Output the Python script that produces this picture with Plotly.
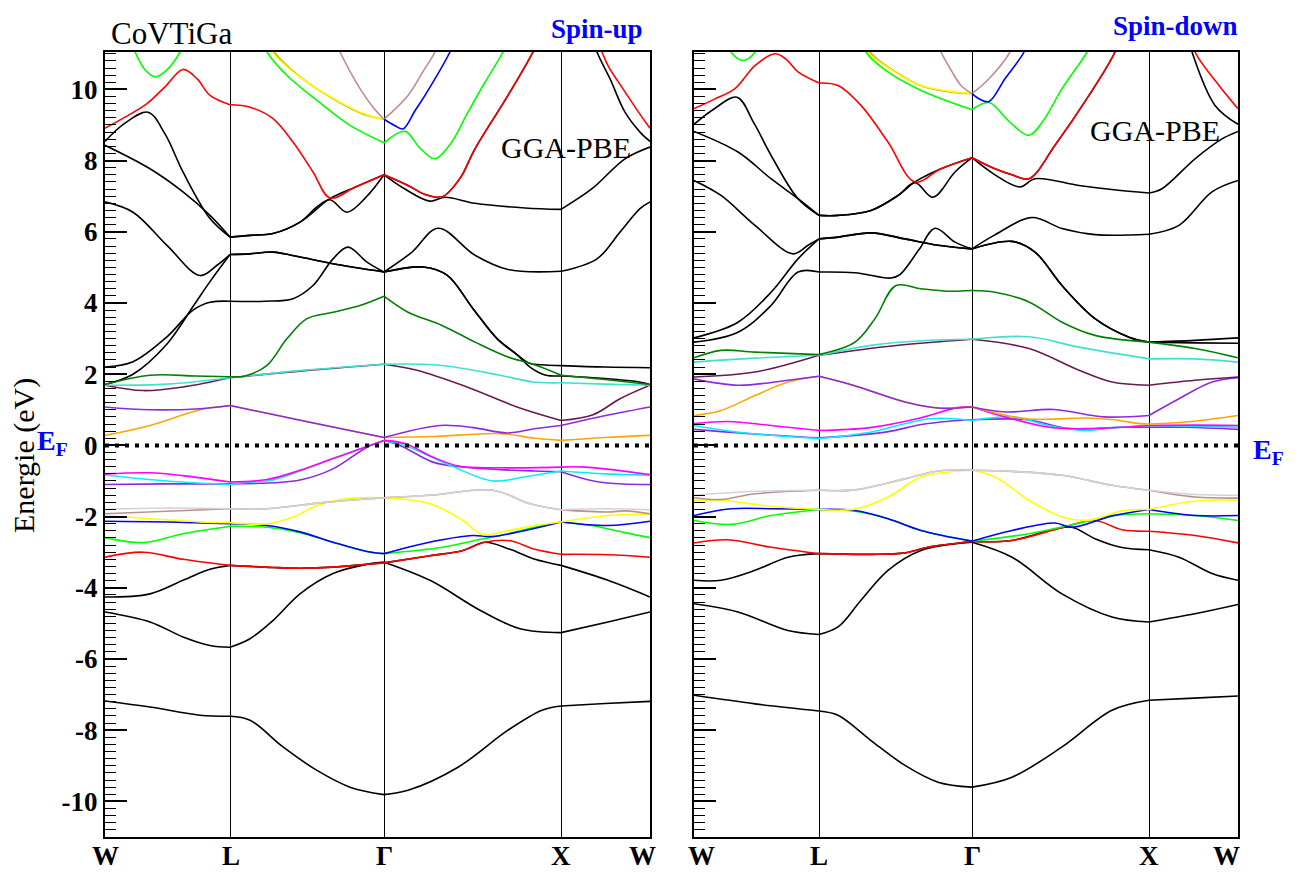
import plotly.graph_objects as go

# ---------------- axes / labels ----------------
K_UP = [0, 125, 279, 456, 545]          # W L G X W  (k-path distance, arb. units)
K_DN = [0, 125, 278, 455, 544]
K_LABELS = ["W", "L", "Γ", "X", "W"]
E_RANGE = [-11.0, 11.05]
E_TICKS = [-10, -8, -6, -4, -2, 0, 2, 4, 6, 8, 10]
E_TICKTEXT = [str(v) for v in E_TICKS]

BLACK = "#000000"; RED = "#FF0000"; LIME = "#00FF00"; BLUE = "#0000FF"
YELLOW = "#FFFF00"; GOLD = "#C8A000"; ROSY = "#BC8F8F"; GRAY = "#D3D3D3"
PURPLE = "#8A2BE2"; CYAN = "#00F0FF"; MAGENTA = "#FF00FF"; ORANGE = "#FFA500"
MAROON = "#6A1B4D"; TURQ = "#40E0D0"; DKGREEN = "#008000"

# ---------------- Spin-up bands (k, E in eV) ----------------
UP_B1 = [(0,-7.18),(45,-7.35),(95,-7.58),(125,-7.61),(145,-7.72),(178,-8.47),(212,-9.13),(245,-9.6),(279,-9.81),(303,-9.69),(353,-9.04),(403,-8.0),(437,-7.44),(456,-7.32),(500,-7.25),(545,-7.19)]
UP_B2 = [(0,-4.68),(45,-4.96),(78,-5.38),(105,-5.62),(125,-5.67),(145,-5.43),(168,-4.92),(195,-4.17),(228,-3.6),(262,-3.34),(279,-3.28),(325,-3.79),(375,-4.63),(415,-5.15),(456,-5.26),(503,-4.96),(545,-4.68)]
UP_B3 = [(0,-4.26),(45,-4.17),(78,-3.79),(105,-3.48),(125,-3.37),(168,-3.43),(195,-3.45),(228,-3.42),(262,-3.34),(279,-3.3),(325,-3.1),(358,-2.95),(380,-2.72),(405,-2.92),(430,-3.2),(456,-3.37),(503,-3.79),(545,-4.26)]
UP_RED_LO = [(0,-3.14),(38,-3.0),(78,-3.2),(125,-3.37),(168,-3.43),(195,-3.45),(228,-3.42),(262,-3.34),(279,-3.3),(325,-3.1),(358,-2.95),(380,-2.72),(405,-2.68),(430,-2.92),(456,-3.06),(503,-3.07),(545,-3.14)]
UP_GREEN_LO = [(0,-2.59),(38,-2.73),(78,-2.48),(125,-2.27),(162,-2.3),(195,-2.45),(228,-2.72),(262,-2.98),(279,-3.04),(337,-2.86),(370,-2.67),(403,-2.48),(430,-2.3),(456,-2.15),(487,-2.25),(520,-2.45),(545,-2.59)]
UP_BLUE_LO = [(0,-2.13),(62,-2.15),(125,-2.2),(162,-2.25),(195,-2.43),(228,-2.72),(262,-2.98),(279,-3.04),(303,-2.86),(337,-2.65),(367,-2.53),(387,-2.56),(420,-2.39),(456,-2.15),(503,-2.25),(545,-2.13)]
UP_YELLOW_LO = [(0,-1.97),(45,-2.06),(95,-2.15),(125,-2.17),(162,-2.2),(188,-2.01),(212,-1.69),(240,-1.5),(279,-1.47),(325,-1.64),(358,-2.11),(377,-2.5),(403,-2.39),(430,-2.25),(456,-2.15),(503,-1.97),(545,-1.93)]
UP_ROSY_LO = [(0,-1.92),(62,-1.85),(125,-1.78),(162,-1.78),(220,-1.6),(279,-1.47),(325,-1.4),(388,-1.26),(425,-1.64),(456,-1.81),(503,-1.87),(520,-1.84),(545,-1.92)]
UP_GRAY = [(0,-1.8),(62,-1.76),(125,-1.78),(162,-1.78),(220,-1.6),(279,-1.47),(325,-1.4),(388,-1.26),(425,-1.64),(456,-1.81),(500,-1.78),(545,-1.81)]
UP_PURPLE_LO = [(0,-1.1),(62,-1.08),(125,-1.08),(195,-0.97),(228,-0.66),(262,-0.05),(279,0.14),(295,0.0),(328,-0.47),(355,-0.6),(395,-0.68),(430,-0.72),(456,-0.74),(494,-1.03),(545,-1.1)]
UP_CYAN = [(0,-0.83),(62,-1.0),(125,-1.1),(145,-1.03),(168,-0.97),(195,-0.72),(228,-0.37),(250,-0.15),(279,0.14),(300,0.0),(345,-0.56),(388,-1.0),(420,-0.88),(456,-0.72),(500,-0.8),(545,-0.84)]
UP_MAGENTA = [(0,-0.8),(45,-0.77),(78,-0.85),(125,-1.03),(162,-0.96),(195,-0.7),(228,-0.37),(250,-0.15),(279,0.14),(300,0.05),(328,-0.33),(355,-0.59),(395,-0.63),(456,-0.61),(480,-0.61),(545,-0.82)]
UP_ORANGE = [(0,0.28),(45,0.56),(95,1.0),(125,1.12),(200,0.68),(279,0.22),(328,0.25),(395,0.33),(430,0.2),(456,0.14),(500,0.22),(545,0.28)]
UP_PURPLE_HI = [(0,1.08),(45,1.0),(95,1.03),(125,1.12),(200,0.68),(279,0.22),(335,0.56),(368,0.5),(402,0.35),(428,0.46),(456,0.56),(494,0.8),(545,1.08)]
UP_MAROON = [(0,1.69),(38,1.54),(80,1.65),(125,1.9),(200,2.1),(279,2.28),(312,2.11),(362,1.64),(412,1.08),(456,0.7),(488,0.86),(515,1.31),(545,1.69)]
UP_TURQ = [(0,1.69),(62,1.72),(125,1.9),(195,2.1),(279,2.28),(335,2.25),(395,1.97),(428,1.78),(456,1.76),(500,1.72),(545,1.69)]
UP_DKGREEN = [(0,1.71),(45,1.97),(90,1.95),(125,1.93),(140,1.95),(162,2.25),(182,3.0),(202,3.56),(228,3.74),(255,3.93),(279,4.19),(303,3.74),(337,3.37),(370,2.9),(403,2.48),(427,2.29),(456,1.97),(500,1.85),(545,1.71)]
UP_BLK_C1 = [(0,1.71),(28,2.0),(62,2.85),(88,3.9),(105,4.6),(125,5.36),(145,5.38),(168,5.43),(195,5.29),(228,5.1),(279,4.87),(318,5.01),(342,4.78),(368,3.84),(392,3.0),(412,2.55),(425,2.2),(440,1.98),(456,1.95),(500,1.88),(530,1.8),(545,1.71)]
UP_BLK_C2 = [(0,2.2),(28,2.35),(62,3.05),(88,3.8),(105,4.02),(125,4.05),(160,4.05),(188,4.12),(208,4.49),(228,5.24),(243,5.57),(262,5.15),(279,4.87),(318,5.01),(342,4.78),(368,3.84),(392,3.0),(412,2.55),(425,2.3),(440,2.26),(456,2.24),(500,2.2),(545,2.18)]
UP_BLK_C3 = [(0,6.84),(28,6.55),(62,5.62),(95,4.77),(112,5.06),(125,5.36),(145,5.38),(168,5.43),(195,5.29),(228,5.1),(279,4.87),(307,5.43),(333,6.1),(370,5.34),(403,4.94),(456,4.89),(492,5.24),(515,5.99),(535,6.65),(545,6.84)]
UP_BLK_A = [(0,8.54),(20,9.05),(43,9.36),(60,8.75),(78,7.68),(105,6.37),(125,5.85),(145,5.9),(168,5.95),(195,6.27),(212,6.7),(225,6.9),(242,6.55),(262,7.0),(279,7.6),(300,7.2),(325,6.86),(340,6.97),(370,6.8),(420,6.67),(456,6.63),(487,7.21),(520,8.05),(545,8.38)]
UP_BLK_B = [(0,8.43),(45,7.77),(78,7.12),(105,6.46),(125,5.85),(145,5.9),(168,5.95),(195,6.27),(225,6.93),(250,7.25),(279,7.6),(303,7.3),(320,7.05),(337,6.98),(355,7.5),(370,8.33),(403,9.83),(428,11.05),(440,11.8),None,(485,11.7),(492,11.05),(505,10.3),(520,9.36),(535,8.8),(545,8.54)]
UP_RED_HI = [(0,8.91),(20,9.22),(42,9.6),(60,10.07),(78,10.56),(92,10.3),(105,9.83),(125,9.57),(145,9.5),(168,9.18),(188,8.52),(208,7.68),(225,6.95),(250,7.25),(279,7.6),(303,7.3),(320,7.05),(337,6.98),(355,7.5),(370,8.33),(403,9.83),(428,11.05),(440,11.8),None,(490,11.6),(497,11.05),(503,10.67),(520,9.93),(537,9.22),(545,8.91)]
UP_LIME_HI1 = [(22,11.6),(30,11.05),(40,10.55),(50,10.35),(62,10.55),(75,11.05),(83,11.6)]
UP_LIME_HI2 = [(150,11.8),(162,11.05),(182,10.39),(212,9.69),(245,8.99),(279,8.5),(300,8.82),(315,8.35),(330,8.05),(345,8.45),(363,9.36),(380,10.2),(398,11.05),(405,11.5)]
UP_YELLOW_HI = [(158,11.5),(167,11.05),(190,10.45),(212,10.02),(255,9.36),(279,9.16)]
UP_GOLD_HI = [(160,11.5),(169,11.05),(192,10.42),(214,9.98),(256,9.33),(279,9.16)]
UP_TAN_HI = [(228,11.5),(235,11.05),(255,10.02),(268,9.5),(279,9.16),(303,9.83),(318,10.5),(330,11.05),(336,11.5)]
UP_BLUE_HI = [(279,9.16),(290,8.98),(298,8.89),(310,9.4),(320,9.83),(345,11.05),(352,11.5)]

# ---------------- Spin-down bands (k, E in eV) ----------------
DN_B1 = [(0,-7.02),(61,-7.26),(125,-7.46),(144,-7.58),(177,-8.29),(211,-8.99),(244,-9.46),(278,-9.6),(318,-9.32),(368,-8.47),(418,-7.44),(455,-7.16),(500,-7.1),(544,-7.04)]
DN_B2 = [(0,-4.45),(44,-4.68),(94,-5.2),(125,-5.31),(144,-5.1),(167,-4.35),(194,-3.51),(227,-2.95),(278,-2.72),(318,-3.14),(368,-4.17),(418,-4.82),(455,-4.96),(501,-4.73),(544,-4.47)]
DN_B3 = [(0,-3.79),(27,-3.79),(61,-3.51),(94,-3.14),(125,-3.04),(177,-3.06),(211,-3.02),(234,-2.86),(278,-2.7),(318,-2.67),(361,-2.35),(378,-2.3),(401,-2.62),(428,-2.87),(455,-2.93),(485,-3.14),(518,-3.6),(544,-3.79)]
DN_RED_LO = [(0,-2.74),(34,-2.65),(77,-2.86),(125,-3.04),(177,-3.06),(211,-3.02),(234,-2.86),(278,-2.7),(318,-2.67),(368,-2.31),(401,-2.11),(428,-2.37),(455,-2.41),(501,-2.53),(544,-2.74)]
DN_GREEN_LO = [(0,-2.11),(37,-2.22),(77,-1.97),(125,-1.8),(161,-1.85),(194,-2.06),(227,-2.39),(278,-2.69),(335,-2.48),(375,-2.25),(418,-1.98),(455,-1.92),(501,-1.97),(544,-2.11)]
DN_BLUE_LO = [(0,-1.97),(37,-1.78),(80,-1.78),(125,-1.8),(161,-1.83),(194,-2.06),(227,-2.39),(278,-2.69),(318,-2.39),(361,-2.18),(378,-2.3),(418,-1.98),(455,-1.8),(501,-1.97),(544,-1.97)]
DN_YELLOW_LO = [(0,-1.54),(27,-1.54),(77,-1.71),(125,-1.8),(161,-1.79),(194,-1.45),(227,-0.89),(278,-0.7),(301,-0.89),(335,-1.54),(368,-2.01),(395,-2.1),(428,-1.84),(455,-1.8),(501,-1.56),(544,-1.54)]
DN_ROSY_LO = [(0,-1.47),(27,-1.52),(61,-1.36),(125,-1.26),(161,-1.25),(211,-0.94),(244,-0.72),(278,-0.7),(318,-0.73),(368,-0.84),(418,-1.12),(455,-1.26),(501,-1.45),(544,-1.48)]
DN_GRAY = [(0,-1.4),(61,-1.29),(125,-1.26),(161,-1.25),(211,-0.94),(244,-0.72),(278,-0.7),(318,-0.73),(368,-0.84),(418,-1.12),(455,-1.26),(501,-1.38),(544,-1.4)]
DN_PURPLE_LO = [(0,0.45),(60,0.32),(125,0.21),(193,0.38),(226,0.58),(255,0.68),(278,0.72),(333,0.72),(376,0.47),(426,0.51),(455,0.51),(493,0.51),(544,0.45)]
DN_CYAN = [(0,0.56),(44,0.37),(125,0.19),(176,0.37),(236,0.75),(278,0.7),(319,0.8),(355,0.55),(389,0.42),(420,0.5),(455,0.56),(500,0.54),(544,0.51)]
DN_MAGENTA = [(0,0.61),(34,0.67),(77,0.56),(125,0.42),(176,0.5),(226,0.77),(263,1.06),(278,1.08),(306,0.84),(355,0.51),(389,0.47),(455,0.56),(500,0.57),(544,0.56)]
DN_ORANGE = [(0,0.84),(27,0.98),(61,1.4),(94,1.78),(125,1.94),(159,1.69),(211,1.22),(244,1.05),(278,1.08),(333,0.75),(393,0.77),(420,0.72),(446,0.61),(455,0.6),(500,0.68),(544,0.84)]
DN_PURPLE_HI = [(0,1.87),(44,1.69),(94,1.83),(125,1.94),(159,1.69),(211,1.22),(244,1.05),(278,1.08),(312,0.94),(360,1.01),(410,0.8),(455,0.84),(485,1.31),(518,1.78),(544,1.9)]
DN_MAROON = [(0,1.92),(61,2.06),(125,2.53),(200,2.8),(278,2.98),(335,2.72),(385,2.11),(418,1.78),(455,1.69),(501,1.83),(544,1.92)]
DN_TURQ = [(0,2.34),(61,2.45),(125,2.53),(177,2.81),(227,2.94),(278,2.98),(335,3.05),(385,2.76),(455,2.43),(501,2.43),(544,2.34)]
DN_DKGREEN = [(0,2.46),(27,2.67),(61,2.62),(125,2.55),(161,2.9),(181,3.56),(202,4.49),(227,4.4),(254,4.33),(278,4.35),(301,4.3),(335,4.03),(368,3.46),(401,3.09),(455,2.9),(501,2.72),(544,2.46)]
DN_BLK_C1 = [(0,3.02),(44,3.46),(77,4.3),(104,5.24),(125,5.8),(144,5.85),(177,5.97),(211,5.8),(244,5.62),(278,5.52),(318,5.73),(341,5.43),(368,4.49),(401,3.56),(435,3.04),(455,2.9),(501,2.95),(544,3.02)]
DN_BLK_C2 = [(0,2.9),(44,3.18),(77,3.93),(104,4.87),(125,4.87),(161,4.85),(197,4.7),(206,4.8),(225,5.5),(241,6.1),(261,5.71),(278,5.52),(300,5.9),(338,6.4),(368,6.09),(401,5.92),(455,5.93),(485,6.18),(518,7.12),(544,7.44)]
DN_BLK_C3 = [(0,7.44),(27,7.02),(61,6.18),(99,5.38),(114,5.62),(125,5.8),(144,5.85),(177,5.97),(211,5.8),(244,5.62),(278,5.52),(318,5.73),(341,5.43),(368,4.49),(401,3.56),(435,3.04),(455,2.9),(501,2.88),(544,2.87)]
DN_BLK_A = [(0,9.02),(20,9.45),(43,9.78),(60,9.05),(77,8.15),(104,6.93),(125,6.46),(144,6.46),(177,6.6),(204,7.02),(221,7.38),(239,6.97),(261,7.68),(278,8.08),(301,7.6),(326,7.26),(341,7.49),(385,7.3),(420,7.18),(455,7.09),(468,7.21),(501,8.05),(528,8.61),(544,8.82)]
DN_BLK_B = [(0,8.82),(44,8.24),(77,7.49),(104,6.93),(125,6.46),(144,6.46),(177,6.6),(204,7.02),(221,7.4),(247,7.77),(278,8.08),(301,7.77),(318,7.6),(335,7.49),(361,8.43),(395,9.83),(421,11.05),(430,11.8),None,(492,11.7),(498,11.05),(521,9.55),(544,9.02)]
DN_RED_HI = [(0,9.46),(20,9.72),(41,10.02),(61,10.67),(81,11.0),(92,10.85),(104,10.49),(125,10.18),(144,10.11),(167,9.55),(194,8.52),(221,7.4),(247,7.77),(278,8.08),(301,7.77),(318,7.6),(335,7.49),(361,8.43),(395,9.83),(421,11.05),(430,11.8),None,(495,11.7),(501,11.05),(525,10.11),(544,9.46)]
DN_LIME_HI1 = [(30,11.6),(37,11.05),(43,10.88),(49,10.81),(55,10.88),(61,11.05),(68,11.6)]
DN_LIME_HI2 = [(165,11.8),(172,11.05),(194,10.49),(227,9.97),(278,9.43),(295,9.63),(315,9.1),(335,8.71),(350,9.15),(368,10.02),(393,11.05),(400,11.5)]
DN_YELLOW_HI = [(168,11.5),(174,11.05),(200,10.5),(227,10.11),(255,9.95),(278,9.88)]
DN_GOLD_HI = [(170,11.5),(176,11.05),(202,10.48),(229,10.08),(256,9.93),(278,9.88)]
DN_TAN_HI = [(240,11.6),(247,11.05),(258,10.5),(267,10.11),(278,9.88),(295,10.3),(316,11.05),(322,11.5)]
DN_BLUE_HI = [(278,9.88),(286,9.72),(295,9.66),(311,10.3),(330,11.05),(335,11.5)]

UP_SET = [
    (BLACK, UP_B1), (BLACK, UP_B2), (BLACK, UP_B3), (BLACK, UP_BLK_C1), (BLACK, UP_BLK_C2),
    (BLACK, UP_BLK_C3), (BLACK, UP_BLK_A), (BLACK, UP_BLK_B),
    (RED, UP_RED_LO), (LIME, UP_GREEN_LO), (BLUE, UP_BLUE_LO), (YELLOW, UP_YELLOW_LO),
    (ROSY, UP_ROSY_LO), (GRAY, UP_GRAY), (PURPLE, UP_PURPLE_LO), (CYAN, UP_CYAN),
    (MAGENTA, UP_MAGENTA), (ORANGE, UP_ORANGE), (PURPLE, UP_PURPLE_HI), (MAROON, UP_MAROON),
    (TURQ, UP_TURQ), (DKGREEN, UP_DKGREEN), (RED, UP_RED_HI), (LIME, UP_LIME_HI1),
    (LIME, UP_LIME_HI2), (GOLD, UP_GOLD_HI), (YELLOW, UP_YELLOW_HI), (ROSY, UP_TAN_HI),
    (BLUE, UP_BLUE_HI),
]
DN_SET = [
    (BLACK, DN_B1), (BLACK, DN_B2), (BLACK, DN_B3), (BLACK, DN_BLK_C1), (BLACK, DN_BLK_C2),
    (BLACK, DN_BLK_C3), (BLACK, DN_BLK_A), (BLACK, DN_BLK_B),
    (RED, DN_RED_LO), (LIME, DN_GREEN_LO), (BLUE, DN_BLUE_LO), (YELLOW, DN_YELLOW_LO),
    (ROSY, DN_ROSY_LO), (GRAY, DN_GRAY), (PURPLE, DN_PURPLE_LO), (CYAN, DN_CYAN),
    (MAGENTA, DN_MAGENTA), (ORANGE, DN_ORANGE), (PURPLE, DN_PURPLE_HI), (MAROON, DN_MAROON),
    (TURQ, DN_TURQ), (DKGREEN, DN_DKGREEN), (RED, DN_RED_HI), (LIME, DN_LIME_HI1),
    (LIME, DN_LIME_HI2), (GOLD, DN_GOLD_HI), (YELLOW, DN_YELLOW_HI), (ROSY, DN_TAN_HI),
    (BLUE, DN_BLUE_HI),
]


def to_xy(points, ksym):
    """Split the band at the inner high-symmetry points (and at explicit None)."""
    inner = ksym[1:-1]
    xs, ys = [], []
    for p in points:
        if p is None:
            xs.append(None); ys.append(None)
            continue
        k, e = p
        xs.append(k); ys.append(e)
        if k in inner:
            xs.extend([None, k]); ys.extend([None, e])
    return xs, ys


fig = go.Figure()
for bands, ks, xa, ya in ((UP_SET, K_UP, "x", "y"), (DN_SET, K_DN, "x2", "y2")):
    for color, pts in bands:
        xs, ys = to_xy(pts, ks)
        fig.add_trace(go.Scatter(x=xs, y=ys, mode="lines", xaxis=xa, yaxis=ya,
                                 line=dict(color=color, width=1.6, shape="spline", smoothing=1.0),
                                 hoverinfo="skip", showlegend=False))
    fig.add_trace(go.Scatter(x=[ks[0], ks[-1]], y=[0, 0], mode="lines", xaxis=xa, yaxis=ya,
                             line=dict(color="black", width=4, dash="4px,6px"),
                             hoverinfo="skip", showlegend=False))

W, H = 1298, 875
SERIF = "Liberation Serif"
ydom = [1 - 837 / H, 1 - 52 / H]

def xaxis_cfg(dom, ks):
    return dict(domain=dom, range=[ks[0], ks[-1]], tickmode="array", tickvals=ks,
                showticklabels=False, ticks="", showgrid=True, gridcolor="black", gridwidth=1.2,
                zeroline=False, showline=True, mirror=True, linecolor="black", linewidth=2,
                automargin=False)

def yaxis_cfg(anchor, labels):
    return dict(domain=ydom, range=E_RANGE, anchor=anchor, tickmode="array", tickvals=E_TICKS,
                ticktext=E_TICKTEXT, showticklabels=labels, ticks="inside", ticklen=22, tickwidth=1.5,
                tickcolor="black", showgrid=False, zeroline=False, showline=True, mirror=True,
                linecolor="black", linewidth=2, automargin=False,
                minor=dict(tickmode="linear", tick0=0, dtick=0.2, ticks="inside", ticklen=11,
                           tickwidth=1.2, tickcolor="black", showgrid=False),
                tickfont=dict(family=SERIF, size=27, color="black", weight="bold"))

fig.update_layout(
    width=W, height=H, margin=dict(l=0, r=0, t=0, b=0, pad=0, autoexpand=False),
    paper_bgcolor="white", plot_bgcolor="white", showlegend=False,
    xaxis=xaxis_cfg([105 / W, 650 / W], K_UP),
    xaxis2=xaxis_cfg([694 / W, 1238 / W], K_DN),
    yaxis=yaxis_cfg("x", True),
    yaxis2=yaxis_cfg("x2", False),
)

def ann(text, px, py, size, color="black", weight="normal", xanchor="center", angle=0,
        yanchor="middle"):
    fig.add_annotation(text=text, x=px / W, y=1 - py / H, xref="paper", yref="paper",
                       showarrow=False, xanchor=xanchor, yanchor=yanchor, textangle=angle,
                       borderpad=0, font=dict(family=SERIF, size=size, color=color, weight=weight))

# k-point labels under each panel (end labels pulled slightly inward as in the original)
for lab, px in zip(K_LABELS, [105, 231, 384, 561, 642]):
    ann(lab, px, 872, 27, weight="bold", yanchor="bottom")
for lab, px in zip(K_LABELS, [701, 819, 972, 1149, 1226]):
    ann(lab, px, 872, 27, weight="bold", yanchor="bottom")

ann("CoVTiGa", 110, 34, 31, xanchor="left")
ann("Spin-up", 644, 29, 27, color="blue", weight="bold", xanchor="right")
ann("Spin-down", 1239, 26, 27, color="blue", weight="bold", xanchor="right")
ann("GGA-PBE", 566, 147, 30)
ann("GGA-PBE", 1155, 131, 30)
ann("Energie (eV)", 24, 456, 30, angle=-90)
ann("E<sub>F</sub>", 52, 442, 28, color="blue", weight="bold")
ann("E<sub>F</sub>", 1268, 451, 28, color="blue", weight="bold")

fig.write_html("out.html")
